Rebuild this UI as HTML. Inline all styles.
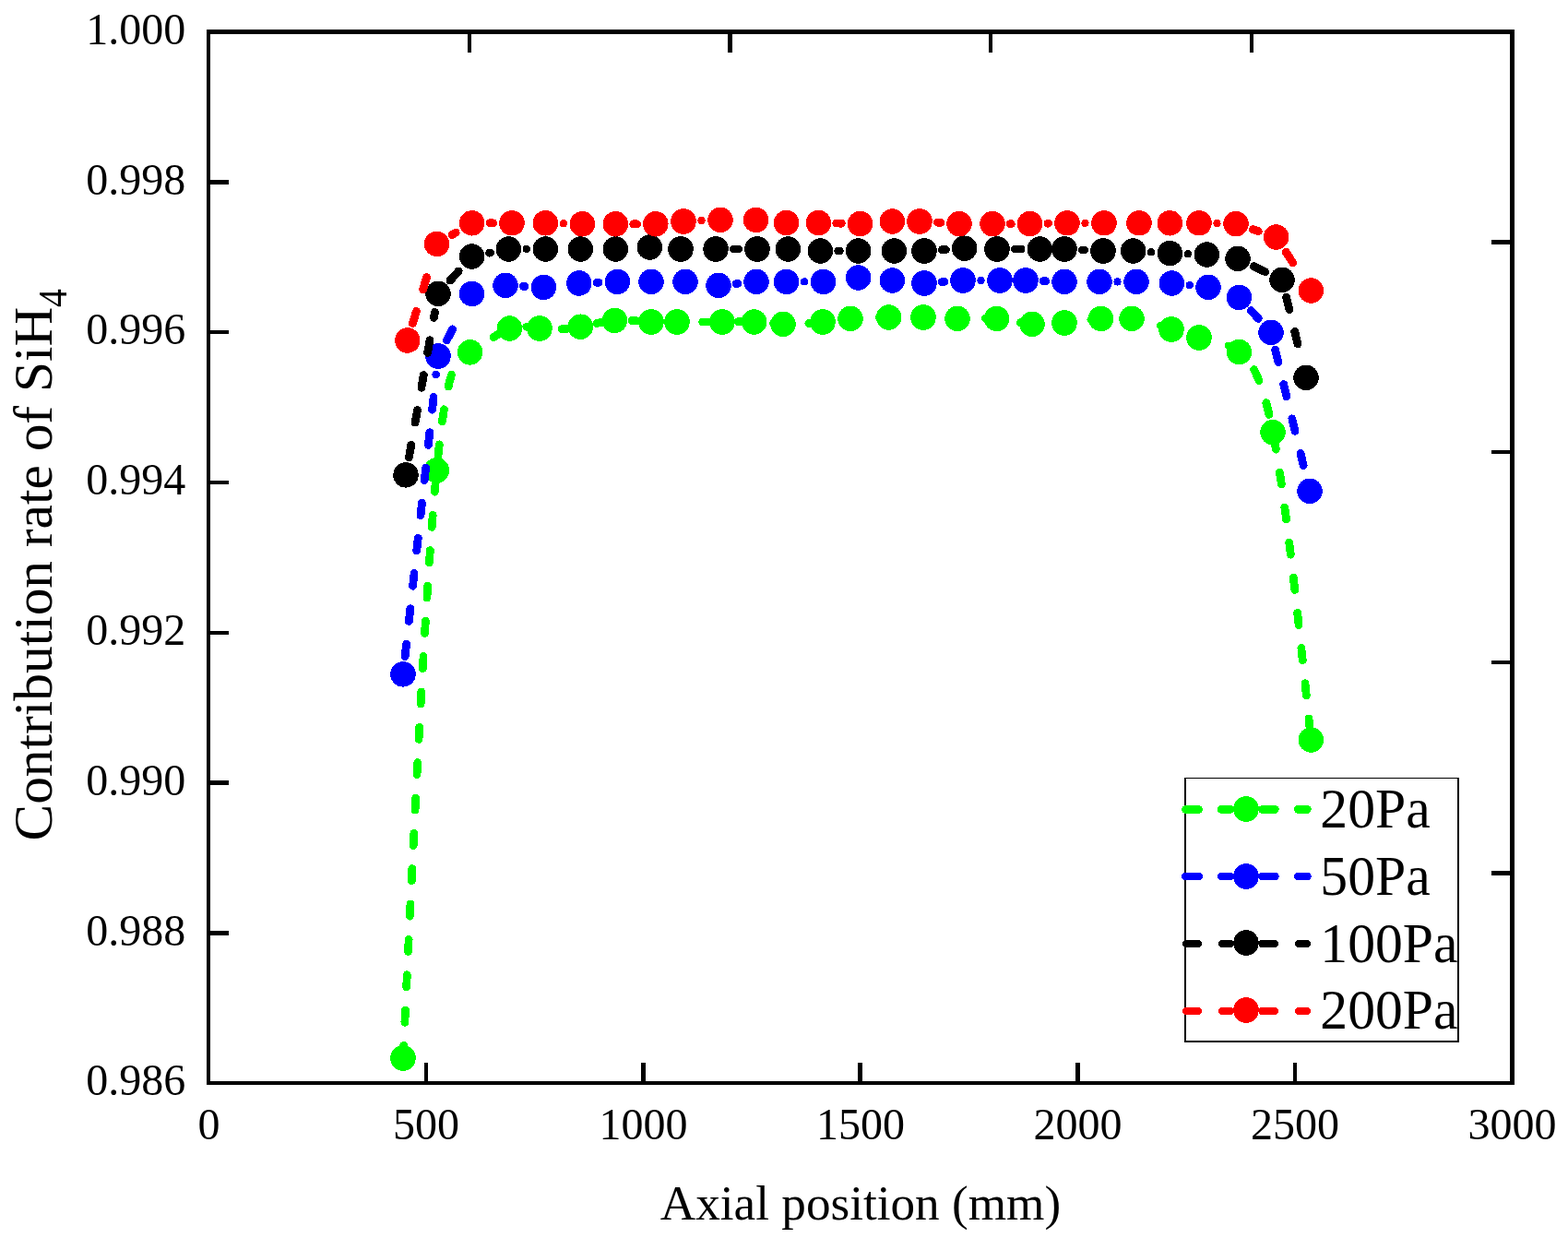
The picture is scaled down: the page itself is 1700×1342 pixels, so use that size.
<!DOCTYPE html>
<html lang="en"><head><meta charset="utf-8"><title>Contribution rate of SiH4 vs axial position</title>
<style>html,body{margin:0;padding:0;background:#fff}body{width:1700px;height:1342px;overflow:hidden}svg{display:block}text{font-family:"Liberation Serif","Times New Roman",serif;fill:#000}</style></head><body>
<svg width="1700" height="1342" viewBox="0 0 1700 1342">
<rect width="1700" height="1342" fill="#fff"/>
<g shape-rendering="crispEdges">
<g><polyline points="437.02,1146.6 437.06,1145.8 437.14,1144 437.23,1142.19 437.31,1140.39 437.4,1138.59 437.48,1136.79 437.57,1134.99 437.65,1133.42" fill="none" stroke="#00ff00" stroke-width="8.8" stroke-linecap="round" stroke-linejoin="round"/><polyline points="438.84,1108.24 438.88,1107.37 438.97,1105.57 439.05,1103.77 439.14,1101.97 439.23,1100.18 439.31,1098.38 439.4,1096.58 439.47,1095.06" fill="none" stroke="#00ff00" stroke-width="8.8" stroke-linecap="round" stroke-linejoin="round"/><polyline points="440.67,1069.89 440.71,1069.05 440.79,1067.26 440.88,1065.46 440.97,1063.67 441.05,1061.88 441.14,1060.09 441.22,1058.3 441.3,1056.7" fill="none" stroke="#00ff00" stroke-width="8.8" stroke-linecap="round" stroke-linejoin="round"/><polyline points="442.5,1031.53 442.53,1030.92 442.62,1029.14 442.71,1027.36 442.79,1025.58 442.88,1023.8 442.96,1022.02 443.05,1020.25 443.14,1018.35" fill="none" stroke="#00ff00" stroke-width="8.8" stroke-linecap="round" stroke-linejoin="round"/><polyline points="444.36,993.18 444.39,992.5 444.47,990.74 444.56,988.98 444.65,987.21 444.73,985.45 444.82,983.69 444.9,981.93 445,979.99" fill="none" stroke="#00ff00" stroke-width="8.8" stroke-linecap="round" stroke-linejoin="round"/><polyline points="446.23,954.82 446.27,953.91 446.36,952.17 446.44,950.43 446.53,948.69 446.61,946.95 446.7,945.21 446.78,943.48 446.88,941.64" fill="none" stroke="#00ff00" stroke-width="8.8" stroke-linecap="round" stroke-linejoin="round"/><polyline points="448.12,916.47 448.15,915.85 448.24,914.14 448.33,912.42 448.41,910.71 448.5,909 448.58,907.29 448.67,905.58 448.75,903.87 448.78,903.28" fill="none" stroke="#00ff00" stroke-width="8.8" stroke-linecap="round" stroke-linejoin="round"/><polyline points="450.05,878.12 450.09,877.3 450.18,875.62 450.26,873.94 450.35,872.26 450.44,870.58 450.52,868.9 450.61,867.23 450.69,865.55 450.72,864.93" fill="none" stroke="#00ff00" stroke-width="8.8" stroke-linecap="round" stroke-linejoin="round"/><polyline points="452.02,839.77 452.06,839 452.15,837.35 452.23,835.71 452.32,834.07 452.4,832.43 452.49,830.79 452.58,829.15 452.66,827.52 452.71,826.59" fill="none" stroke="#00ff00" stroke-width="8.8" stroke-linecap="round" stroke-linejoin="round"/><polyline points="454.04,801.42 454.09,800.56 454.17,798.96 454.26,797.36 454.34,795.77 454.43,794.17 454.52,792.58 454.6,790.99 454.69,789.4 454.75,788.24" fill="none" stroke="#00ff00" stroke-width="8.8" stroke-linecap="round" stroke-linejoin="round"/><polyline points="456.12,763.08 456.17,762.22 456.26,760.67 456.34,759.13 456.43,757.58 456.51,756.04 456.6,754.5 456.68,752.97 456.77,751.43 456.85,749.9" fill="none" stroke="#00ff00" stroke-width="8.8" stroke-linecap="round" stroke-linejoin="round"/><polyline points="458.28,724.74 458.31,724.23 458.39,722.74 458.48,721.25 458.57,719.77 458.65,718.29 458.74,716.81 458.82,715.33 458.91,713.86 458.99,712.39 459.04,711.56" fill="none" stroke="#00ff00" stroke-width="8.8" stroke-linecap="round" stroke-linejoin="round"/><polyline points="460.53,686.4 460.56,685.9 460.65,684.48 460.73,683.07 460.82,681.65 460.91,680.24 460.99,678.84 461.08,677.43 461.16,676.03 461.25,674.63 461.33,673.23" fill="none" stroke="#00ff00" stroke-width="8.8" stroke-linecap="round" stroke-linejoin="round"/><polyline points="462.91,648.08 462.96,647.27 463.04,645.93 463.13,644.6 463.22,643.27 463.3,641.94 463.39,640.61 463.47,639.29 463.56,637.97 463.64,636.66 463.76,634.9" fill="none" stroke="#00ff00" stroke-width="8.8" stroke-linecap="round" stroke-linejoin="round"/><polyline points="465.44,609.76 465.5,608.95 465.58,607.71 465.67,606.47 465.75,605.24 465.84,604.01 465.93,602.78 466.01,601.55 466.1,600.33 466.18,599.12 466.27,597.9 466.36,596.59" fill="none" stroke="#00ff00" stroke-width="8.8" stroke-linecap="round" stroke-linejoin="round"/><polyline points="468.2,571.46 468.24,570.95 468.32,569.82 468.41,568.69 468.49,567.57 468.58,566.45 468.66,565.34 468.75,564.23 468.84,563.12 468.92,562.02 469.01,560.92 469.09,559.83 469.21,558.3" fill="none" stroke="#00ff00" stroke-width="8.8" stroke-linecap="round" stroke-linejoin="round"/><polyline points="471.28,533.18 471.35,532.38 471.43,531.39 471.52,530.41 471.6,529.42 471.69,528.45 471.77,527.48 471.86,526.51 471.95,525.55 472.03,524.59 472.12,523.63 472.2,522.68 472.29,521.73 472.37,520.79 472.44,520.04" fill="none" stroke="#00ff00" stroke-width="8.8" stroke-linecap="round" stroke-linejoin="round"/><polyline points="474.89,494.95 475.04,493.54 475.45,489.71 475.86,485.97 476.32,481.83" fill="none" stroke="#00ff00" stroke-width="8.8" stroke-linecap="round" stroke-linejoin="round"/><polyline points="479.47,456.83 479.54,456.3 479.95,453.42 480.36,450.62 480.77,447.9 481.18,445.26 481.41,443.77" fill="none" stroke="#00ff00" stroke-width="8.8" stroke-linecap="round" stroke-linejoin="round"/><polyline points="486.11,419.02 486.23,418.52 486.64,416.8 487.05,415.13 487.45,413.52 487.86,411.97 488.27,410.47 488.68,409.03 489.09,407.65 489.52,406.27" fill="none" stroke="#00ff00" stroke-width="8.8" stroke-linecap="round" stroke-linejoin="round"/><polyline points="502.17,385.05 502.6,384.79 503.01,384.56 503.42,384.34 503.83,384.13 504.24,383.93 504.65,383.75 505.06,383.57 505.47,383.4 505.88,383.24 506.29,383.08 506.69,382.92 507.1,382.77 507.51,382.62 507.92,382.47 508.33,382.32 508.74,382.17 509.15,382.02 509.56,381.86 510.85,381.33 512.14,380.74 513.42,380.12 514.21,379.71" fill="none" stroke="#00ff00" stroke-width="8.8" stroke-linecap="round" stroke-linejoin="round"/><polyline points="535.13,365.69 535.75,365.25 537.04,364.36 538.33,363.49 539.62,362.64 540.91,361.81 542.19,361.01 543.48,360.24 544.77,359.51 546.31,358.68" fill="none" stroke="#00ff00" stroke-width="8.8" stroke-linecap="round" stroke-linejoin="round"/><polyline points="570.74,354.33 571.5,354.39 573,354.54 574.5,354.7 576,354.88 577.5,355.07 579,355.26 580.5,355.45 582,355.64 583.84,355.87" fill="none" stroke="#00ff00" stroke-width="8.8" stroke-linecap="round" stroke-linejoin="round"/><polyline points="609,356.63 609.72,356.59 611.24,356.49 612.75,356.38 614.26,356.25 615.78,356.11 617.29,355.96 618.8,355.79 620.32,355.6 622.14,355.36" fill="none" stroke="#00ff00" stroke-width="8.8" stroke-linecap="round" stroke-linejoin="round"/><polyline points="646.86,350.53 647.65,350.37 649.13,350.06 650.61,349.75 652.09,349.46 653.57,349.18 655.05,348.91 656.53,348.65 658.01,348.41 659.84,348.13" fill="none" stroke="#00ff00" stroke-width="8.8" stroke-linecap="round" stroke-linejoin="round"/><polyline points="684.98,347.52 685.95,347.58 687.45,347.69 688.96,347.8 690.46,347.91 691.96,348.03 693.47,348.15 694.97,348.27 696.48,348.39 698.14,348.52" fill="none" stroke="#00ff00" stroke-width="8.8" stroke-linecap="round" stroke-linejoin="round"/><polyline points="723.33,349.16 724,349.15 725.5,349.13 727,349.1 728.5,349.08 730,349.06 731.5,349.03 733,349.01 734.5,348.99 736,348.98 736.52,348.97" fill="none" stroke="#00ff00" stroke-width="8.8" stroke-linecap="round" stroke-linejoin="round"/><polyline points="761.72,349.03 762.5,349.03 764,349.04 765.5,349.05 767,349.05 768.5,349.06 770,349.06 771.5,349.06 773,349.06 774.92,349.06" fill="none" stroke="#00ff00" stroke-width="8.8" stroke-linecap="round" stroke-linejoin="round"/><polyline points="800.12,348.72 801.05,348.71 802.56,348.7 804.06,348.7 805.57,348.7 807.07,348.71 808.57,348.72 810.08,348.74 811.58,348.77 813.32,348.82" fill="none" stroke="#00ff00" stroke-width="8.8" stroke-linecap="round" stroke-linejoin="round"/><polyline points="838.45,350.7 839.38,350.77 840.9,350.9 842.42,351.01 843.94,351.12 845.45,351.22 846.97,351.3 848.49,351.38 850,351.44 851.62,351.49" fill="none" stroke="#00ff00" stroke-width="8.8" stroke-linecap="round" stroke-linejoin="round"/><polyline points="876.79,350.62 877.5,350.56 879,350.42 880.5,350.28 882,350.13 883.5,349.98 885,349.81 886.5,349.65 888,349.48 889.92,349.25" fill="none" stroke="#00ff00" stroke-width="8.8" stroke-linecap="round" stroke-linejoin="round"/><polyline points="914.92,346.11 915.5,346.05 917,345.88 918.5,345.73 920,345.58 921.5,345.44 923,345.31 924.51,345.19 926.01,345.08 927.51,344.98 928.07,344.94" fill="none" stroke="#00ff00" stroke-width="8.8" stroke-linecap="round" stroke-linejoin="round"/><polyline points="953.25,344.12 954.08,344.1 955.58,344.09 957.08,344.07 958.59,344.05 960.09,344.04 961.6,344.02 963.1,344.01 964.61,343.99 966.45,343.97" fill="none" stroke="#00ff00" stroke-width="8.8" stroke-linecap="round" stroke-linejoin="round"/><polyline points="991.65,343.81 992.41,343.82 993.92,343.84 995.44,343.86 996.96,343.89 998.47,343.93 999.99,343.97 1001.5,344.02 1003,344.07 1004.85,344.14" fill="none" stroke="#00ff00" stroke-width="8.8" stroke-linecap="round" stroke-linejoin="round"/><polyline points="1030.02,345.28 1031,345.31 1032.5,345.34 1034,345.37 1035.5,345.39 1037,345.4 1038.5,345.4 1040,345.39 1041.51,345.37 1043.22,345.34" fill="none" stroke="#00ff00" stroke-width="8.8" stroke-linecap="round" stroke-linejoin="round"/><polyline points="1068.41,344.77 1069.07,344.78 1070.58,344.81 1072.08,344.85 1073.58,344.9 1075.09,344.98 1076.59,345.07 1078.09,345.18 1079.6,345.3 1081.59,345.5" fill="none" stroke="#00ff00" stroke-width="8.8" stroke-linecap="round" stroke-linejoin="round"/><polyline points="1106.43,349.68 1107.03,349.78 1108.53,350.03 1110.02,350.28 1111.52,350.5 1113.02,350.72 1114.51,350.92 1116.01,351.1 1117.5,351.26 1119,351.4 1119.51,351.44" fill="none" stroke="#00ff00" stroke-width="8.8" stroke-linecap="round" stroke-linejoin="round"/><polyline points="1144.67,350.99 1145.5,350.91 1147,350.76 1148.5,350.61 1150,350.45 1151.5,350.28 1153,350.12 1154.5,349.94 1156.01,349.76 1157.79,349.55" fill="none" stroke="#00ff00" stroke-width="8.8" stroke-linecap="round" stroke-linejoin="round"/><polyline points="1182.81,346.49 1183.57,346.41 1185.08,346.24 1186.58,346.08 1188.09,345.93 1189.59,345.77 1191.09,345.63 1192.6,345.49 1194.11,345.36 1195.94,345.2" fill="none" stroke="#00ff00" stroke-width="8.8" stroke-linecap="round" stroke-linejoin="round"/><polyline points="1221.12,344.81 1221.94,344.87 1223.46,345.01 1224.98,345.16 1226.49,345.34 1227.97,345.53 1229.42,345.74 1230.87,345.97 1232.31,346.22 1234.19,346.57" fill="none" stroke="#00ff00" stroke-width="8.8" stroke-linecap="round" stroke-linejoin="round"/><polyline points="1258.49,353.17 1259.37,353.46 1260.82,353.93 1262.27,354.41 1263.72,354.9 1265.17,355.38 1266.62,355.87 1268.07,356.35 1269.52,356.84 1271.02,357.34" fill="none" stroke="#00ff00" stroke-width="8.8" stroke-linecap="round" stroke-linejoin="round"/><polyline points="1295.09,364.77 1295.65,364.91 1297.1,365.29 1298.55,365.65 1300,366 1301.42,366.33 1302.83,366.65 1304.25,366.96 1305.66,367.27 1307.08,367.58 1307.95,367.76" fill="none" stroke="#00ff00" stroke-width="8.8" stroke-linecap="round" stroke-linejoin="round"/><polyline points="1332.05,374.93 1332.55,375.17 1333.97,375.85 1335.38,376.57 1336.8,377.34 1338.21,378.16 1339.63,379.03 1341.04,379.95 1342.46,380.92 1343.41,381.61" fill="none" stroke="#00ff00" stroke-width="8.8" stroke-linecap="round" stroke-linejoin="round"/><polyline points="1359.53,400.69 1359.95,401.47 1360.53,402.6 1361.12,403.76 1361.7,404.97 1362.28,406.22 1362.87,407.5 1363.45,408.84 1364.04,410.21 1364.62,411.63 1365.04,412.67" fill="none" stroke="#00ff00" stroke-width="8.8" stroke-linecap="round" stroke-linejoin="round"/><polyline points="1372.76,436.65 1372.99,437.53 1373.58,439.76 1374.16,442.06 1374.74,444.42 1375.33,446.84 1375.94,449.46" fill="none" stroke="#00ff00" stroke-width="8.8" stroke-linecap="round" stroke-linejoin="round"/><polyline points="1381.05,474.13 1381.17,474.76 1381.36,475.76 1381.54,476.77 1381.73,477.78 1381.91,478.8 1382.1,479.83 1382.28,480.86 1382.47,481.9 1382.65,482.95 1382.84,484 1383.02,485.06 1383.21,486.13 1383.38,487.13" fill="none" stroke="#00ff00" stroke-width="8.8" stroke-linecap="round" stroke-linejoin="round"/><polyline points="1387.39,512 1387.53,512.87 1387.71,514.1 1387.9,515.32 1388.08,516.56 1388.27,517.79 1388.45,519.04 1388.64,520.29 1388.82,521.55 1389.01,522.81 1389.19,524.07 1389.34,525.06" fill="none" stroke="#00ff00" stroke-width="8.8" stroke-linecap="round" stroke-linejoin="round"/><polyline points="1392.82,550.02 1392.9,550.56 1393.08,551.94 1393.27,553.33 1393.45,554.72 1393.64,556.11 1393.82,557.51 1394.01,558.91 1394.19,560.32 1394.38,561.73 1394.55,563.1" fill="none" stroke="#00ff00" stroke-width="8.8" stroke-linecap="round" stroke-linejoin="round"/><polyline points="1397.73,588.1 1397.83,588.94 1398.02,590.44 1398.2,591.95 1398.39,593.46 1398.57,594.97 1398.76,596.49 1398.94,598.01 1399.13,599.53 1399.33,601.2" fill="none" stroke="#00ff00" stroke-width="8.8" stroke-linecap="round" stroke-linejoin="round"/><polyline points="1402.3,626.23 1402.4,627.07 1402.58,628.66 1402.77,630.26 1402.95,631.86 1403.14,633.46 1403.32,635.06 1403.51,636.67 1403.69,638.28 1403.81,639.34" fill="none" stroke="#00ff00" stroke-width="8.8" stroke-linecap="round" stroke-linejoin="round"/><polyline points="1406.65,664.38 1406.72,665.01 1406.9,666.67 1407.09,668.33 1407.27,670 1407.46,671.66 1407.64,673.33 1407.83,675.01 1408.01,676.68 1408.1,677.5" fill="none" stroke="#00ff00" stroke-width="8.8" stroke-linecap="round" stroke-linejoin="round"/><polyline points="1410.84,702.55 1410.91,703.21 1411.1,704.92 1411.28,706.63 1411.47,708.34 1411.65,710.05 1411.84,711.77 1412.02,713.49 1412.26,715.68" fill="none" stroke="#00ff00" stroke-width="8.8" stroke-linecap="round" stroke-linejoin="round"/><polyline points="1414.94,740.73 1415.05,741.77 1415.23,743.51 1415.42,745.25 1415.6,747 1415.79,748.74 1415.97,750.49 1416.16,752.23 1416.33,753.86" fill="none" stroke="#00ff00" stroke-width="8.8" stroke-linecap="round" stroke-linejoin="round"/><polyline points="1418.97,778.92 1419.06,779.71 1419.24,781.47 1419.43,783.23 1419.61,784.98 1419.8,786.74 1419.98,788.5 1420.17,790.26 1420.35,792.05" fill="none" stroke="#00ff00" stroke-width="8.8" stroke-linecap="round" stroke-linejoin="round"/><circle cx="437" cy="1147" r="13.75" fill="#00ff00"/><circle cx="473.4" cy="509.8" r="13.75" fill="#00ff00"/><circle cx="509.56" cy="381.86" r="13.75" fill="#00ff00"/><circle cx="552.5" cy="356" r="13.75" fill="#00ff00"/><circle cx="585" cy="356" r="13.75" fill="#00ff00"/><circle cx="629.4" cy="354.2" r="13.75" fill="#00ff00"/><circle cx="666.4" cy="347.4" r="13.75" fill="#00ff00"/><circle cx="706" cy="349" r="13.75" fill="#00ff00"/><circle cx="734" cy="349" r="13.75" fill="#00ff00"/><circle cx="783" cy="349" r="13.75" fill="#00ff00"/><circle cx="817.6" cy="349" r="13.75" fill="#00ff00"/><circle cx="849" cy="351.4" r="13.75" fill="#00ff00"/><circle cx="892" cy="349" r="13.75" fill="#00ff00"/><circle cx="922" cy="345.4" r="13.75" fill="#00ff00"/><circle cx="963.6" cy="344" r="13.75" fill="#00ff00"/><circle cx="1001" cy="344" r="13.75" fill="#00ff00"/><circle cx="1038" cy="345.4" r="13.75" fill="#00ff00"/><circle cx="1080.6" cy="345.4" r="13.75" fill="#00ff00"/><circle cx="1119" cy="351.4" r="13.75" fill="#00ff00"/><circle cx="1154" cy="350" r="13.75" fill="#00ff00"/><circle cx="1193.6" cy="345.4" r="13.75" fill="#00ff00"/><circle cx="1227" cy="345.4" r="13.75" fill="#00ff00"/><circle cx="1270" cy="357" r="13.75" fill="#00ff00"/><circle cx="1300" cy="366" r="13.75" fill="#00ff00"/><circle cx="1343.4" cy="381.6" r="13.75" fill="#00ff00"/><circle cx="1380" cy="468.6" r="13.75" fill="#00ff00"/><circle cx="1421.4" cy="802" r="13.75" fill="#00ff00"/></g>
<g><line x1="439.11" y1="711.72" x2="440.62" y2="698" stroke="#0000ff" stroke-width="8.8" stroke-linecap="round"/><line x1="443.32" y1="673.5" x2="444.84" y2="659.78" stroke="#0000ff" stroke-width="8.8" stroke-linecap="round"/><line x1="447.54" y1="635.28" x2="449.05" y2="621.56" stroke="#0000ff" stroke-width="8.8" stroke-linecap="round"/><line x1="451.75" y1="597.06" x2="453.26" y2="583.34" stroke="#0000ff" stroke-width="8.8" stroke-linecap="round"/><line x1="455.96" y1="558.84" x2="457.47" y2="545.12" stroke="#0000ff" stroke-width="8.8" stroke-linecap="round"/><line x1="460.17" y1="520.62" x2="461.68" y2="506.91" stroke="#0000ff" stroke-width="8.8" stroke-linecap="round"/><line x1="464.38" y1="482.4" x2="465.89" y2="468.69" stroke="#0000ff" stroke-width="8.8" stroke-linecap="round"/><line x1="468.59" y1="444.18" x2="470.1" y2="430.47" stroke="#0000ff" stroke-width="8.8" stroke-linecap="round"/><ellipse cx="472.8" cy="405.97" rx="4.4" ry="4.4" fill="#0000ff" transform="rotate(-83.71 472.8 405.97)"/><line x1="484.19" y1="369.03" x2="490.76" y2="356.89" stroke="#0000ff" stroke-width="8.8" stroke-linecap="round"/><line x1="567.28" y1="310.33" x2="569.12" y2="310.42" stroke="#0000ff" stroke-width="8.8" stroke-linecap="round"/><line x1="647.09" y1="306.26" x2="649.11" y2="306.18" stroke="#0000ff" stroke-width="8.8" stroke-linecap="round"/><line x1="798.21" y1="307.53" x2="799.8" y2="307.37" stroke="#0000ff" stroke-width="8.8" stroke-linecap="round"/><circle cx="872.1" cy="305.4" r="4.1" fill="#0000ff"/><line x1="1021.25" y1="305.62" x2="1023.75" y2="305.45" stroke="#0000ff" stroke-width="8.8" stroke-linecap="round"/><ellipse cx="1063.5" cy="304" rx="4.1" ry="4.1" fill="#0000ff" transform="rotate(0 1063.5 304)"/><line x1="1131.29" y1="304.64" x2="1133.71" y2="304.72" stroke="#0000ff" stroke-width="8.8" stroke-linecap="round"/><ellipse cx="1211.5" cy="305.4" rx="4.1" ry="4.1" fill="#0000ff" transform="rotate(0 1211.5 305.4)"/><circle cx="1289.7" cy="309.14" r="4.1" fill="#0000ff"/><line x1="1356.39" y1="336.67" x2="1364.33" y2="345.39" stroke="#0000ff" stroke-width="8.8" stroke-linecap="round"/><line x1="1382.58" y1="379.15" x2="1385.85" y2="392.56" stroke="#0000ff" stroke-width="8.8" stroke-linecap="round"/><line x1="1391.7" y1="416.5" x2="1394.97" y2="429.91" stroke="#0000ff" stroke-width="8.8" stroke-linecap="round"/><line x1="1400.82" y1="453.85" x2="1404.09" y2="467.26" stroke="#0000ff" stroke-width="8.8" stroke-linecap="round"/><line x1="1409.94" y1="491.21" x2="1413.21" y2="504.61" stroke="#0000ff" stroke-width="8.8" stroke-linecap="round"/><circle cx="437" cy="730.9" r="13.75" fill="#0000ff"/><circle cx="475" cy="386" r="13.75" fill="#0000ff"/><circle cx="511.6" cy="318.4" r="13.75" fill="#0000ff"/><circle cx="548" cy="309.4" r="13.75" fill="#0000ff"/><circle cx="589.4" cy="311.4" r="13.75" fill="#0000ff"/><circle cx="627.8" cy="307" r="13.75" fill="#0000ff"/><circle cx="669.4" cy="305.4" r="13.75" fill="#0000ff"/><circle cx="706" cy="305.4" r="13.75" fill="#0000ff"/><circle cx="743" cy="305.4" r="13.75" fill="#0000ff"/><circle cx="779" cy="309.4" r="13.75" fill="#0000ff"/><circle cx="820" cy="305.4" r="13.75" fill="#0000ff"/><circle cx="852.6" cy="305.4" r="13.75" fill="#0000ff"/><circle cx="892.6" cy="305.4" r="13.75" fill="#0000ff"/><circle cx="930.6" cy="301" r="13.75" fill="#0000ff"/><circle cx="967.4" cy="304" r="13.75" fill="#0000ff"/><circle cx="1002" cy="307" r="13.75" fill="#0000ff"/><circle cx="1044" cy="304" r="13.75" fill="#0000ff"/><circle cx="1084" cy="304" r="13.75" fill="#0000ff"/><circle cx="1112" cy="304" r="13.75" fill="#0000ff"/><circle cx="1154" cy="305.4" r="13.75" fill="#0000ff"/><circle cx="1192" cy="305.4" r="13.75" fill="#0000ff"/><circle cx="1232" cy="305.4" r="13.75" fill="#0000ff"/><circle cx="1270.4" cy="307" r="13.75" fill="#0000ff"/><circle cx="1310" cy="311.4" r="13.75" fill="#0000ff"/><circle cx="1343.4" cy="322.4" r="13.75" fill="#0000ff"/><circle cx="1378" cy="360.4" r="13.75" fill="#0000ff"/><circle cx="1420" cy="532.4" r="13.75" fill="#0000ff"/></g>
<g><line x1="443.38" y1="495.9" x2="445.8" y2="482.31" stroke="#000000" stroke-width="8.8" stroke-linecap="round"/><line x1="450.13" y1="458.04" x2="452.55" y2="444.46" stroke="#000000" stroke-width="8.8" stroke-linecap="round"/><line x1="456.87" y1="420.19" x2="459.29" y2="406.6" stroke="#000000" stroke-width="8.8" stroke-linecap="round"/><line x1="463.61" y1="382.34" x2="466.03" y2="368.75" stroke="#000000" stroke-width="8.8" stroke-linecap="round"/><line x1="470.35" y1="344.48" x2="471.44" y2="338.39" stroke="#000000" stroke-width="8.8" stroke-linecap="round"/><line x1="487.96" y1="304.1" x2="497.22" y2="293.87" stroke="#000000" stroke-width="8.8" stroke-linecap="round"/><line x1="530.52" y1="274.2" x2="531.5" y2="274" stroke="#000000" stroke-width="8.8" stroke-linecap="round"/><circle cx="570.9" cy="270" r="4.1" fill="#000000"/><line x1="795.3" y1="270" x2="800.7" y2="270" stroke="#000000" stroke-width="8.8" stroke-linecap="round"/><line x1="908.7" y1="272" x2="910.3" y2="272" stroke="#000000" stroke-width="8.8" stroke-linecap="round"/><line x1="1021.26" y1="270.76" x2="1025.34" y2="270.5" stroke="#000000" stroke-width="8.8" stroke-linecap="round"/><line x1="1100.3" y1="270" x2="1107.1" y2="270" stroke="#000000" stroke-width="8.8" stroke-linecap="round"/><line x1="1173.28" y1="270.92" x2="1175.72" y2="271.03" stroke="#000000" stroke-width="8.8" stroke-linecap="round"/><circle cx="1248" cy="273.27" r="4.1" fill="#000000"/><circle cx="1287.9" cy="275.28" r="4.1" fill="#000000"/><line x1="1359.41" y1="288.74" x2="1371.69" y2="294.63" stroke="#000000" stroke-width="8.8" stroke-linecap="round"/><line x1="1394.6" y1="322.14" x2="1397.89" y2="335.55" stroke="#000000" stroke-width="8.8" stroke-linecap="round"/><line x1="1403.76" y1="359.49" x2="1407.04" y2="372.89" stroke="#000000" stroke-width="8.8" stroke-linecap="round"/><circle cx="440" cy="514.9" r="13.75" fill="#000000"/><circle cx="475" cy="318.4" r="13.75" fill="#000000"/><circle cx="511.6" cy="278" r="13.75" fill="#000000"/><circle cx="551.4" cy="270" r="13.75" fill="#000000"/><circle cx="591.4" cy="270" r="13.75" fill="#000000"/><circle cx="629.4" cy="270" r="13.75" fill="#000000"/><circle cx="667.4" cy="270" r="13.75" fill="#000000"/><circle cx="704.4" cy="268" r="13.75" fill="#000000"/><circle cx="738" cy="270" r="13.75" fill="#000000"/><circle cx="776" cy="270" r="13.75" fill="#000000"/><circle cx="821" cy="270" r="13.75" fill="#000000"/><circle cx="854.4" cy="270" r="13.75" fill="#000000"/><circle cx="889.4" cy="272" r="13.75" fill="#000000"/><circle cx="930.6" cy="272" r="13.75" fill="#000000"/><circle cx="969.4" cy="272" r="13.75" fill="#000000"/><circle cx="1002" cy="272" r="13.75" fill="#000000"/><circle cx="1045.6" cy="269.2" r="13.75" fill="#000000"/><circle cx="1081" cy="270" r="13.75" fill="#000000"/><circle cx="1127.4" cy="270" r="13.75" fill="#000000"/><circle cx="1154" cy="270" r="13.75" fill="#000000"/><circle cx="1196" cy="272" r="13.75" fill="#000000"/><circle cx="1228.6" cy="272" r="13.75" fill="#000000"/><circle cx="1268.4" cy="274.6" r="13.75" fill="#000000"/><circle cx="1308.4" cy="276" r="13.75" fill="#000000"/><circle cx="1342" cy="280.4" r="13.75" fill="#000000"/><circle cx="1390" cy="303.4" r="13.75" fill="#000000"/><circle cx="1416" cy="409.4" r="13.75" fill="#000000"/></g>
<g><line x1="447.41" y1="350.53" x2="451.43" y2="337.33" stroke="#ff0000" stroke-width="8.8" stroke-linecap="round"/><line x1="458.6" y1="313.75" x2="462.61" y2="300.54" stroke="#ff0000" stroke-width="8.8" stroke-linecap="round"/><line x1="490.19" y1="254.53" x2="494.15" y2="252.18" stroke="#ff0000" stroke-width="8.8" stroke-linecap="round"/><line x1="530.9" y1="241.8" x2="534.7" y2="241.8" stroke="#ff0000" stroke-width="8.8" stroke-linecap="round"/><circle cx="610.9" cy="242.29" r="4.1" fill="#ff0000"/><line x1="686.7" y1="242.8" x2="690.5" y2="242.8" stroke="#ff0000" stroke-width="8.8" stroke-linecap="round"/><circle cx="760.5" cy="239.22" r="4.1" fill="#ff0000"/><line x1="906.7" y1="242.03" x2="912.3" y2="242.15" stroke="#ff0000" stroke-width="8.8" stroke-linecap="round"/><line x1="1016.26" y1="241.16" x2="1019.74" y2="241.37" stroke="#ff0000" stroke-width="8.8" stroke-linecap="round"/><line x1="1095.3" y1="242.6" x2="1096.3" y2="242.6" stroke="#ff0000" stroke-width="8.8" stroke-linecap="round"/><line x1="1135.9" y1="242.22" x2="1136.7" y2="242.2" stroke="#ff0000" stroke-width="8.8" stroke-linecap="round"/><ellipse cx="1176.5" cy="241.8" rx="4.1" ry="4.1" fill="#ff0000" transform="rotate(0 1176.5 241.8)"/><circle cx="1319.5" cy="242.19" r="4.1" fill="#ff0000"/><line x1="1358.33" y1="248.65" x2="1364.32" y2="250.63" stroke="#ff0000" stroke-width="8.8" stroke-linecap="round"/><line x1="1394.14" y1="273.17" x2="1401.67" y2="284.73" stroke="#ff0000" stroke-width="8.8" stroke-linecap="round"/><circle cx="441.8" cy="369" r="13.75" fill="#ff0000"/><circle cx="473.6" cy="264.4" r="13.75" fill="#ff0000"/><circle cx="511.6" cy="241.8" r="13.75" fill="#ff0000"/><circle cx="555" cy="241.8" r="13.75" fill="#ff0000"/><circle cx="591.4" cy="241.8" r="13.75" fill="#ff0000"/><circle cx="631.4" cy="242.8" r="13.75" fill="#ff0000"/><circle cx="667.4" cy="242.8" r="13.75" fill="#ff0000"/><circle cx="710.8" cy="242.8" r="13.75" fill="#ff0000"/><circle cx="741" cy="240" r="13.75" fill="#ff0000"/><circle cx="781" cy="238.4" r="13.75" fill="#ff0000"/><circle cx="819.6" cy="238.4" r="13.75" fill="#ff0000"/><circle cx="852.6" cy="241.6" r="13.75" fill="#ff0000"/><circle cx="887.4" cy="241.6" r="13.75" fill="#ff0000"/><circle cx="932.6" cy="242.6" r="13.75" fill="#ff0000"/><circle cx="967.4" cy="240" r="13.75" fill="#ff0000"/><circle cx="997" cy="240" r="13.75" fill="#ff0000"/><circle cx="1040" cy="242.6" r="13.75" fill="#ff0000"/><circle cx="1076" cy="242.6" r="13.75" fill="#ff0000"/><circle cx="1116.6" cy="242.6" r="13.75" fill="#ff0000"/><circle cx="1157" cy="241.8" r="13.75" fill="#ff0000"/><circle cx="1197" cy="241.8" r="13.75" fill="#ff0000"/><circle cx="1235" cy="241.8" r="13.75" fill="#ff0000"/><circle cx="1268.4" cy="241.8" r="13.75" fill="#ff0000"/><circle cx="1300" cy="241.8" r="13.75" fill="#ff0000"/><circle cx="1340" cy="242.6" r="13.75" fill="#ff0000"/><circle cx="1383.6" cy="257" r="13.75" fill="#ff0000"/><circle cx="1421.4" cy="315" r="13.75" fill="#ff0000"/></g>
</g>
<g fill="#000" shape-rendering="crispEdges">
<rect x="224" y="32" width="1418" height="5"/><rect x="224" y="1172" width="1418" height="4"/><rect x="224" y="32" width="4" height="1144"/><rect x="1637" y="32" width="5" height="1144"/>
<rect x="460" y="1152" width="4" height="20"/>
<rect x="695" y="1152" width="5" height="20"/>
<rect x="930" y="1152" width="5" height="20"/>
<rect x="1166" y="1152" width="5" height="20"/>
<rect x="1402" y="1152" width="4" height="20"/>
<rect x="507" y="37" width="4" height="20"/>
<rect x="789" y="37" width="5" height="20"/>
<rect x="1072" y="37" width="4" height="20"/>
<rect x="1355" y="37" width="4" height="20"/>
<rect x="228" y="195" width="20" height="5"/>
<rect x="228" y="358" width="20" height="4"/>
<rect x="228" y="521" width="20" height="4"/>
<rect x="228" y="684" width="20" height="4"/>
<rect x="228" y="846" width="20" height="5"/>
<rect x="228" y="1009" width="20" height="5"/>
<rect x="1617" y="260" width="20" height="5"/>
<rect x="1617" y="488" width="20" height="4"/>
<rect x="1617" y="716" width="20" height="4"/>
<rect x="1617" y="944" width="20" height="5"/>
</g>
<g font-size="48.5" text-anchor="end">
<text transform="translate(201.2 47.8) scale(0.99 1.02)">1.000</text>
<text transform="translate(201.2 210.59) scale(0.99 1.02)">0.998</text>
<text transform="translate(201.2 373.37) scale(0.99 1.02)">0.996</text>
<text transform="translate(201.2 536.16) scale(0.99 1.02)">0.994</text>
<text transform="translate(201.2 698.94) scale(0.99 1.02)">0.992</text>
<text transform="translate(201.2 861.73) scale(0.99 1.02)">0.990</text>
<text transform="translate(201.2 1024.52) scale(0.99 1.02)">0.988</text>
<text transform="translate(201.2 1187.3) scale(0.99 1.02)">0.986</text>
</g>
<g font-size="48.5" text-anchor="middle">
<text transform="translate(226.5 1234.6) scale(0.99 1.02)">0</text>
<text transform="translate(462 1234.6) scale(0.99 1.02)">500</text>
<text transform="translate(697.5 1234.6) scale(0.99 1.02)">1000</text>
<text transform="translate(933 1234.6) scale(0.99 1.02)">1500</text>
<text transform="translate(1168.5 1234.6) scale(0.99 1.02)">2000</text>
<text transform="translate(1404 1234.6) scale(0.99 1.02)">2500</text>
<text transform="translate(1639.5 1234.6) scale(0.99 1.02)">3000</text>
</g>
<text x="933" y="1322.4" font-size="53.2" text-anchor="middle">Axial position (mm)</text>
<text transform="translate(56.2 911.4) rotate(-90)" font-size="59.36">Contribution rate of SiH</text>
<text transform="translate(72.2 333) rotate(-90) scale(0.95 1.05)" font-size="42">4</text>
<g fill="#000" shape-rendering="crispEdges"><rect x="1284" y="843" width="298" height="1"/><rect x="1284" y="1128" width="298" height="2"/><rect x="1284" y="843" width="2" height="287"/><rect x="1580" y="843" width="2" height="287"/></g>
<g shape-rendering="crispEdges">
<line x1="1285.5" y1="877.4" x2="1299.5" y2="877.4" stroke="#00ff00" stroke-width="8.8" stroke-linecap="round"/>
<line x1="1324.3" y1="877.4" x2="1333.6" y2="877.4" stroke="#00ff00" stroke-width="8.8" stroke-linecap="round"/>
<line x1="1368.6" y1="877.4" x2="1382.3" y2="877.4" stroke="#00ff00" stroke-width="8.8" stroke-linecap="round"/>
<line x1="1407.4" y1="877.4" x2="1417.3" y2="877.4" stroke="#00ff00" stroke-width="8.8" stroke-linecap="round"/>
<circle cx="1351" cy="877" r="13.75" fill="#00ff00"/>
<line x1="1285.1" y1="950" x2="1299.9" y2="950" stroke="#0000ff" stroke-width="8" stroke-linecap="round"/>
<line x1="1323.9" y1="950" x2="1334" y2="950" stroke="#0000ff" stroke-width="8" stroke-linecap="round"/>
<line x1="1368.2" y1="950" x2="1382.7" y2="950" stroke="#0000ff" stroke-width="8" stroke-linecap="round"/>
<line x1="1407" y1="950" x2="1417.7" y2="950" stroke="#0000ff" stroke-width="8" stroke-linecap="round"/>
<circle cx="1351" cy="950" r="13.75" fill="#0000ff"/>
<line x1="1286" y1="1023" x2="1298.9" y2="1023" stroke="#000000" stroke-width="8" stroke-linecap="round"/>
<line x1="1325.1" y1="1023" x2="1333.8" y2="1023" stroke="#000000" stroke-width="8" stroke-linecap="round"/>
<line x1="1368.4" y1="1023" x2="1382" y2="1023" stroke="#000000" stroke-width="8" stroke-linecap="round"/>
<line x1="1407.9" y1="1023" x2="1417" y2="1023" stroke="#000000" stroke-width="8" stroke-linecap="round"/>
<circle cx="1351" cy="1022" r="13.75" fill="#000000"/>
<line x1="1286" y1="1096" x2="1298.9" y2="1096" stroke="#ff0000" stroke-width="8" stroke-linecap="round"/>
<line x1="1325.1" y1="1096" x2="1333.8" y2="1096" stroke="#ff0000" stroke-width="8" stroke-linecap="round"/>
<line x1="1368.4" y1="1096" x2="1382" y2="1096" stroke="#ff0000" stroke-width="8" stroke-linecap="round"/>
<line x1="1407.9" y1="1096" x2="1417" y2="1096" stroke="#ff0000" stroke-width="8" stroke-linecap="round"/>
<circle cx="1351" cy="1095" r="13.75" fill="#ff0000"/>
</g>
<g font-size="59">
<text transform="translate(1431.3 897.3) scale(1.012 1.03)">20Pa</text>
<text transform="translate(1431.3 970) scale(1.012 1.03)">50Pa</text>
<text transform="translate(1431.3 1042.7) scale(1.012 1.03)">100Pa</text>
<text transform="translate(1431.3 1115.4) scale(1.012 1.03)">200Pa</text>
</g>
</svg></body></html>
